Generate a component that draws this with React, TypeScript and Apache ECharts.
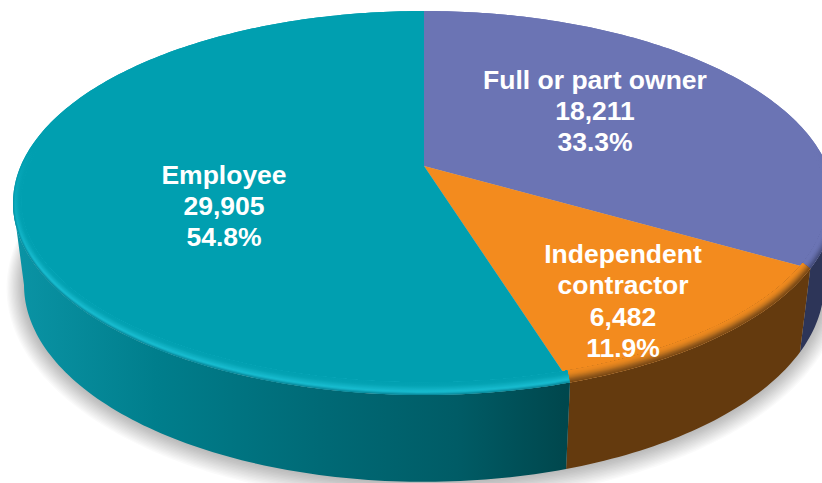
import React, { useEffect, useRef } from "react";
import * as echarts from "echarts";

const categories = ["Full or part owner", "Independent contractor", "Employee"];
const categoryLines = [["Full or part owner"], ["Independent", "contractor"], ["Employee"]];
const counts = [18211, 6482, 29905];
const countLabels = ["18,211", "6,482", "29,905"];
const shareLabels = ["33.3%", "11.9%", "54.8%"];

// Layout and style (not data)
const labelCentres = [[595, 111], [623, 301], [224, 206]];
const faceColours = ["#6b74b4", "#f38b1e", "#009fb0"];
const TOP = { cx: 424, cy: 166, a: 403.3, b: 184.9 };
const BOTTOM = { cx: 424, cy: 247, a: 392.5, b: 189.6 };
const PERSPECTIVE = 0.1926;
const VISIBLE_FROM = Math.acos(-PERSPECTIVE);
const VISIBLE_TO = Math.PI * 2 - VISIBLE_FROM;
const bevelStops = [
  ["#3f4775", "#525a8e", "#636ca8", "#6b74b4", "#6b74b4"],
  ["#744511", "#95591a", "#c4741d", "#e5851e", "#f38b1e"],
  ["#068294", "#18bdd1", "#0eafc1", "#03a2b3", "#009fb0"],
];

const total = counts.reduce((s, v) => s + v, 0);
const startAngles = counts.map((_, i) => (counts.slice(0, i).reduce((s, v) => s + v, 0) / total) * Math.PI * 2);
const endAngles = counts.map((_, i) => (counts.slice(0, i + 1).reduce((s, v) => s + v, 0) / total) * Math.PI * 2);

type Plane = { cx: number; cy: number; a: number; b: number };
function project(theta: number, r: number, plane: Plane): number[] {
  const u = Math.sin(theta) * r;
  const v = Math.cos(theta) * r;
  const d = 1 + PERSPECTIVE * v;
  return [plane.cx + (plane.a * u) / d, plane.cy - (plane.b * v) / d];
}
function arc(from: number, to: number, r: number, plane: Plane): number[][] {
  const n = Math.max(2, Math.ceil(Math.abs(to - from) / (Math.PI / 180)));
  const out: number[][] = [];
  for (let i = 0; i <= n; i++) out.push(project(from + ((to - from) * i) / n, r, plane));
  return out;
}
function hex(c: string) {
  return [1, 3, 5].map((i) => parseInt(c.slice(i, i + 2), 16));
}
function mix(a: string, b: string, t: number) {
  const x = hex(a);
  const y = hex(b);
  return `rgb(${x.map((v, i) => Math.round(v + (y[i] - v) * t)).join(",")})`;
}
function profile(stops: string[], t: number) {
  const p = t * (stops.length - 1);
  const i = Math.min(stops.length - 2, Math.floor(p));
  return mix(stops[i], stops[i + 1], p - i);
}
const Linear = echarts.graphic.LinearGradient as any;

function wallFill(i: number) {
  if (i === 2) {
    return new Linear(20, 0, 565, 0, [
      { offset: 0, color: "#0a93a4" },
      { offset: 0.25, color: "#007e8c" },
      { offset: 0.55, color: "#006a76" },
      { offset: 0.8, color: "#005c66" },
      { offset: 1, color: "#00474d" },
    ], true);
  }
  return i === 0 ? "#2d3558" : "#643a0e";
}

function renderShadow() {
  const layers = 14;
  const children: any[] = [];
  for (let k = layers; k >= 1; k--) {
    const grow = k * 1.25;
    const plane = {
      cx: BOTTOM.cx,
      cy: BOTTOM.cy,
      a: BOTTOM.a * (1 + grow / 400),
      b: BOTTOM.b * (1 + grow / 197),
    };
    children.push({
      type: "polygon",
      shape: { points: arc(0, Math.PI * 2, 1, plane) },
      style: { fill: "rgba(0,0,0,0.02)" },
    });
  }
  return { type: "group", silent: true, children };
}
function renderWall(_: any, api: any) {
  const i = api.value(1);
  const s = Math.max(startAngles[i], VISIBLE_FROM);
  const e = Math.min(endAngles[i], VISIBLE_TO);
  return {
    type: "polygon",
    silent: true,
    shape: { points: [...arc(s, e, 1, TOP), ...arc(e, s, 1, BOTTOM)] },
    style: { fill: wallFill(i) },
  };
}
function renderFace(_: any, api: any) {
  const i = api.value(1);
  const s = startAngles[i];
  const e = endAngles[i];
  const children: any[] = [
    {
      type: "polygon",
      shape: { points: [[TOP.cx, TOP.cy], ...arc(s, e, 1, TOP)] },
      style: { fill: faceColours[i] },
    },
  ];
  const bands = 12;
  const xInset = 0.02;
  const yInset = 0.055;
  const toBand = (pts: number[][], t: number) =>
    pts.map((p) => [
      TOP.cx + (p[0] - TOP.cx) * (1 - xInset * t),
      TOP.cy + (p[1] - TOP.cy) * (1 - yInset * t),
    ]);
  for (let k = 0; k < bands; k++) {
    const t0 = k / bands;
    const outer = toBand(arc(s, e, 1, TOP), t0);
    const inner = toBand(arc(e, s, 1, TOP), 1);
    children.push({
      type: "polygon",
      shape: { points: [...outer, ...inner] },
      style: {
        fill: new Linear(0, 150, 0, 265, [
          { offset: 0, color: faceColours[i] },
          { offset: 1, color: profile(bevelStops[i], t0 + 0.5 / bands) },
        ], true),
      },
    });
  }
  const lines = [...categoryLines[i], countLabels[i], shareLabels[i]];
  children.push({
    type: "text",
    x: labelCentres[i][0],
    y: labelCentres[i][1],
    style: {
      text: lines.join("\n"),
      fill: "#ffffff",
      fontFamily: '"Liberation Sans", Arial, sans-serif',
      fontWeight: "bold",
      fontSize: 26.5,
      lineHeight: 31.2,
      align: "center",
      verticalAlign: "middle",
    },
  });
  return { type: "group", silent: true, children };
}

export default function App() {
  const ref = useRef<HTMLDivElement>(null);
  useEffect(() => {
    document.body.style.margin = "0";
    const chart = echarts.init(ref.current!, undefined, { renderer: "svg" });
    const data = counts.map((v, i) => ({ name: categories[i], value: [v, i] }));
    chart.setOption({
      animation: false,
      backgroundColor: "#ffffff",
      series: [
        { type: "custom", coordinateSystem: "none", silent: true, renderItem: renderShadow, data: [[total, 0]] },
        { type: "custom", coordinateSystem: "none", silent: true, renderItem: renderWall, data },
        { type: "custom", coordinateSystem: "none", silent: true, renderItem: renderFace, data },
      ],
    });
    return () => chart.dispose();
  }, []);
  return <div ref={ref} style={{ width: 822, height: 483 }} />;
}
